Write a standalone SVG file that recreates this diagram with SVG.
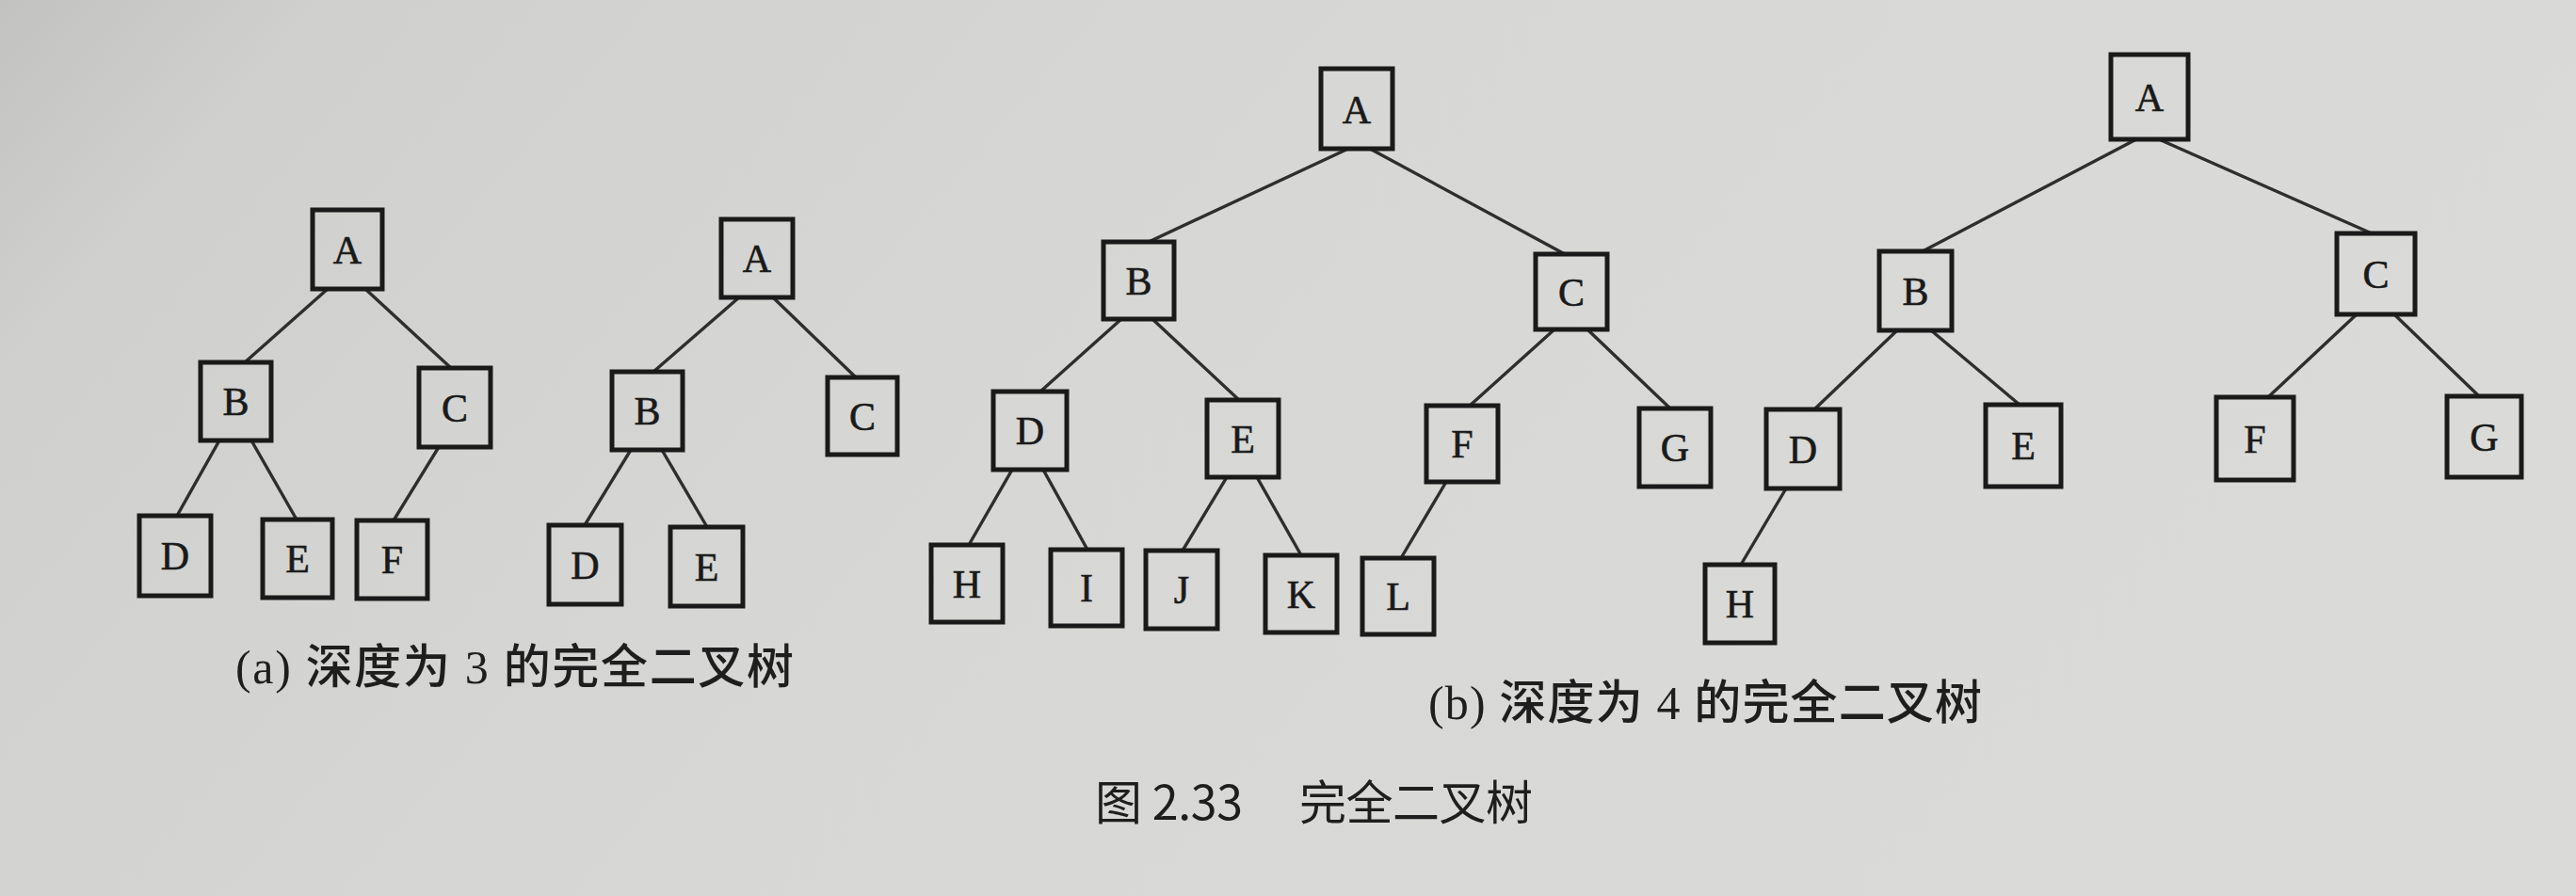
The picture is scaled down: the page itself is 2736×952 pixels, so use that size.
<svg xmlns="http://www.w3.org/2000/svg" width="2736" height="952" viewBox="0 0 2736 952">
<defs>
<linearGradient id="bg" x1="0" y1="0" x2="1" y2="0.3">
<stop offset="0" stop-color="#c2c2c0"/>
<stop offset="0.12" stop-color="#d0d0ce"/>
<stop offset="0.5" stop-color="#d7d7d5"/>
<stop offset="1" stop-color="#dadad8"/>
</linearGradient>
<style>
.box{fill:none;stroke:#1a1a1a;stroke-width:5}
.lbl{font-family:"Liberation Serif","Times New Roman",serif;font-size:42px;fill:#1a1a1a;stroke:#1a1a1a;stroke-width:0.6;text-anchor:middle}
.edge{stroke:#2e2e2e;stroke-width:3.4;stroke-linecap:round;fill:none}
.cap{font-family:"Liberation Serif","Noto Sans CJK SC",serif;font-size:50px;font-weight:500;fill:#1e1e1e}
.fig{font-family:"Noto Sans CJK SC","Liberation Sans",sans-serif;font-size:50px;fill:#1e1e1e}
</style>
</defs>
<rect x="0" y="0" width="2736" height="952" fill="url(#bg)"/>

<g id="connectors">
<!-- tree a1 -->
<line class="edge" x1="348" y1="307" x2="260" y2="385"/>
<line class="edge" x1="388" y1="307" x2="479" y2="391"/>
<line class="edge" x1="233" y1="468" x2="188" y2="548"/>
<line class="edge" x1="267" y1="468" x2="315" y2="552"/>
<line class="edge" x1="466" y1="475" x2="418" y2="553"/>
<!-- tree a2 -->
<line class="edge" x1="785" y1="316" x2="694" y2="395"/>
<line class="edge" x1="821" y1="316" x2="909" y2="401"/>
<line class="edge" x1="670" y1="478" x2="621" y2="558"/>
<line class="edge" x1="703" y1="478" x2="751" y2="560"/>
<!-- tree b1 -->
<line class="edge" x1="1432" y1="158" x2="1220" y2="257"/>
<line class="edge" x1="1455" y1="158" x2="1662" y2="270"/>
<line class="edge" x1="1191" y1="339" x2="1105" y2="416"/>
<line class="edge" x1="1224" y1="339" x2="1316" y2="425"/>
<line class="edge" x1="1651" y1="350" x2="1561" y2="431"/>
<line class="edge" x1="1686" y1="350" x2="1774" y2="434"/>
<line class="edge" x1="1075" y1="499" x2="1029" y2="579"/>
<line class="edge" x1="1108" y1="499" x2="1155" y2="584"/>
<line class="edge" x1="1303" y1="507" x2="1256" y2="585"/>
<line class="edge" x1="1335" y1="507" x2="1382" y2="590"/>
<line class="edge" x1="1536" y1="512" x2="1488" y2="593"/>
<!-- tree b2 -->
<line class="edge" x1="2269" y1="148" x2="2042" y2="267"/>
<line class="edge" x1="2293" y1="148" x2="2519" y2="248"/>
<line class="edge" x1="2015" y1="351" x2="1927" y2="435"/>
<line class="edge" x1="2051" y1="351" x2="2145" y2="430"/>
<line class="edge" x1="2503" y1="334" x2="2409" y2="422"/>
<line class="edge" x1="2543" y1="334" x2="2633" y2="421"/>
<line class="edge" x1="1897" y1="519" x2="1849" y2="600"/>
</g>

<!-- tree a1 -->
<g id="a1-A"><rect class="box" x="332" y="223" width="74" height="84"/><text class="lbl" x="369" y="280">A</text></g>
<g id="a1-B"><rect class="box" x="213" y="385" width="75" height="83"/><text class="lbl" x="250.5" y="441">B</text></g>
<g id="a1-C"><rect class="box" x="445" y="391" width="76" height="84"/><text class="lbl" x="483" y="448">C</text></g>
<g id="a1-D"><rect class="box" x="148" y="548" width="76" height="85"/><text class="lbl" x="186" y="605">D</text></g>
<g id="a1-E"><rect class="box" x="279" y="552" width="74" height="83"/><text class="lbl" x="316" y="608">E</text></g>
<g id="a1-F"><rect class="box" x="379" y="553" width="75" height="83"/><text class="lbl" x="416.5" y="609">F</text></g>

<!-- tree a2 -->
<g id="a2-A"><rect class="box" x="766" y="233" width="76" height="83"/><text class="lbl" x="804" y="289">A</text></g>
<g id="a2-B"><rect class="box" x="650" y="395" width="75" height="83"/><text class="lbl" x="687.5" y="451">B</text></g>
<g id="a2-C"><rect class="box" x="879" y="401" width="74" height="82"/><text class="lbl" x="916" y="457">C</text></g>
<g id="a2-D"><rect class="box" x="583" y="558" width="77" height="84"/><text class="lbl" x="621.5" y="615">D</text></g>
<g id="a2-E"><rect class="box" x="712" y="560" width="77" height="84"/><text class="lbl" x="750.5" y="617">E</text></g>

<!-- tree b1 -->
<g id="b1-A"><rect class="box" x="1403" y="73" width="76" height="85"/><text class="lbl" x="1441" y="131">A</text></g>
<g id="b1-B"><rect class="box" x="1172" y="257" width="75" height="82"/><text class="lbl" x="1209.5" y="313">B</text></g>
<g id="b1-C"><rect class="box" x="1631" y="270" width="76" height="80"/><text class="lbl" x="1669" y="325">C</text></g>
<g id="b1-D"><rect class="box" x="1055" y="416" width="78" height="83"/><text class="lbl" x="1094" y="472">D</text></g>
<g id="b1-E"><rect class="box" x="1282" y="425" width="76" height="82"/><text class="lbl" x="1320" y="481">E</text></g>
<g id="b1-F"><rect class="box" x="1515" y="431" width="76" height="81"/><text class="lbl" x="1553" y="486">F</text></g>
<g id="b1-G"><rect class="box" x="1741" y="434" width="76" height="83"/><text class="lbl" x="1779" y="490">G</text></g>
<g id="b1-H"><rect class="box" x="989" y="579" width="76" height="82"/><text class="lbl" x="1027" y="635">H</text></g>
<g id="b1-I"><rect class="box" x="1116" y="584" width="76" height="81"/><text class="lbl" x="1154" y="639">I</text></g>
<g id="b1-J"><rect class="box" x="1217" y="585" width="76" height="83"/><text class="lbl" x="1255" y="641">J</text></g>
<g id="b1-K"><rect class="box" x="1344" y="590" width="76" height="82"/><text class="lbl" x="1382" y="646">K</text></g>
<g id="b1-L"><rect class="box" x="1447" y="593" width="76" height="81"/><text class="lbl" x="1485" y="648">L</text></g>

<!-- tree b2 -->
<g id="b2-A"><rect class="box" x="2242" y="58" width="82" height="90"/><text class="lbl" x="2283" y="118">A</text></g>
<g id="b2-B"><rect class="box" x="1996" y="267" width="77" height="84"/><text class="lbl" x="2034.5" y="324">B</text></g>
<g id="b2-C"><rect class="box" x="2482" y="248" width="83" height="86"/><text class="lbl" x="2523.5" y="306">C</text></g>
<g id="b2-D"><rect class="box" x="1876" y="435" width="78" height="84"/><text class="lbl" x="1915" y="492">D</text></g>
<g id="b2-E"><rect class="box" x="2109" y="430" width="80" height="87"/><text class="lbl" x="2149" y="488">E</text></g>
<g id="b2-F"><rect class="box" x="2354" y="422" width="82" height="88"/><text class="lbl" x="2395" y="481">F</text></g>
<g id="b2-G"><rect class="box" x="2599" y="421" width="79" height="86"/><text class="lbl" x="2638.5" y="479">G</text></g>
<g id="b2-H"><rect class="box" x="1811" y="600" width="74" height="83"/><text class="lbl" x="1848" y="656">H</text></g>

<!-- captions -->
<text class="cap" x="250" y="726" textLength="593" lengthAdjust="spacing">(a) 深度为 3 的完全二叉树</text>
<text class="cap" x="1517" y="764" textLength="588" lengthAdjust="spacing">(b) 深度为 4 的完全二叉树</text>
<text class="fig" y="871"><tspan x="1163" textLength="157" lengthAdjust="spacing">图 2.33</tspan><tspan x="1380" textLength="248" lengthAdjust="spacing">完全二叉树</tspan></text>
</svg>
